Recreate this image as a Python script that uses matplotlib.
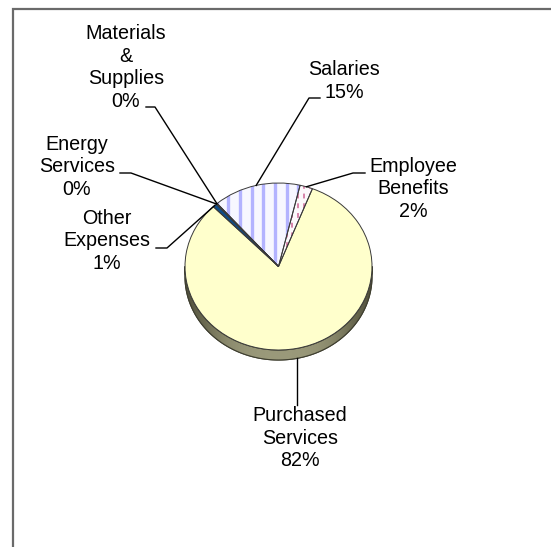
import numpy as np
import matplotlib
matplotlib.use('Agg')
import matplotlib.pyplot as plt
from matplotlib.patches import Polygon, Wedge
from matplotlib.colors import LinearSegmentedColormap

# ---- data ----
categories = ["Salaries", "Employee Benefits", "Purchased Services",
              "Other Expenses", "Energy Services", "Materials & Supplies"]
label_names = ["Salaries", "Employee\nBenefits", "Purchased\nServices",
               "Other\nExpenses", "Energy\nServices", "Materials\n&\nSupplies"]
values = [15.1, 2.2, 81.8, 0.7, 0.1, 0.1]
colors = ['#f7f7ff', '#fcf8fb', '#ffffcc', '#0b4d8c', '#3366cc', '#996699']

# ---- layout ----
label_pos = [(344, 81), (413, 189), (300, 438), (107, 241), (77, 167), (126, 67.5)]
leader_elbows = [((320, 98), (309, 98)), ((365, 173), (353, 173)), None,
                 ((156, 248), (167, 248)), ((120, 173), (131, 173)),
                 ((146, 107), (155, 107))]

plt.rcParams['font.family'] = ['Liberation Sans', 'DejaVu Sans']

W, H = 551, 547
fig = plt.figure(figsize=(W / 100, H / 100), dpi=100)
fig.patch.set_facecolor('white')

cx, cy, rx, ry, depth = 278.5, 266.5, 93.5, 83.5, 10
xm, ylo, yhi = 1.1, 1.4, 1.1
pax = fig.add_axes([(cx - xm * rx) / W, (H - cy - ylo * ry) / H,
                    2 * xm * rx / W, (ylo + yhi) * ry / H])
d = depth / ry

# side of the 3D pie
t = np.linspace(np.pi, 2 * np.pi, 200)
top = np.column_stack([np.cos(t), np.sin(t)])
bot = np.column_stack([np.cos(t[::-1]), np.sin(t[::-1]) - d])
side = Polygon(np.vstack([top, bot]), closed=True, facecolor='#8a896c',
               edgecolor='#3f3f30', lw=0.8, zorder=1)
pax.add_patch(side)
cmap = LinearSegmentedColormap.from_list('side', ['#9a997a', '#6a6950', '#4f4e3c'])
grad = np.abs(np.linspace(-1, 1, 256)) ** 3
im = pax.imshow(grad[None, :], extent=[-1, 1, -1 - d, 0], cmap=cmap,
                aspect='auto', zorder=1.5)
im.set_clip_path(side)
side_edge = Polygon(np.vstack([top, bot]), closed=True, fill=False,
                    edgecolor='#3f3f30', lw=0.8, zorder=1.6)
pax.add_patch(side_edge)

wedges, _ = pax.pie(values, colors=colors, startangle=131, counterclock=False,
                    radius=1, center=(0, 0),
                    wedgeprops=dict(edgecolor='none', linewidth=0))
for w in wedges:
    w.set_zorder(2)

# stripes for Salaries
sp = 0.125
for x in np.arange(-0.163 - 9 * sp, 1.0, sp):
    ln, = pax.plot([x, x], [-1.05, 1.05], color='#b3b3ff', lw=2.4,
                   solid_capstyle='butt', zorder=2.5)
    ln.set_clip_path(wedges[0])
# dashes for Employee Benefits
for x in np.arange(-0.163 - 9 * sp + sp / 2, 1.0, sp / 2):
    ln, = pax.plot([x, x], [-1.05, 1.05], color='#d783aa', lw=1.4,
                   linestyle=(0, (2.5, 2.5)), zorder=2.5)
    ln.set_clip_path(wedges[1])

for w in wedges:
    pax.add_patch(Wedge(w.center, w.r, w.theta1, w.theta2, fill=False,
                        edgecolor='#3a3a3a', lw=0.7, zorder=3))

pax.set_aspect('auto')
pax.set_xlim(-xm, xm)
pax.set_ylim(-ylo, yhi)
pax.axis('off')

# overlay in pixel coords
oax = fig.add_axes([0, 0, 1, 1])
oax.set_xlim(0, W)
oax.set_ylim(H, 0)
oax.axis('off')
oax.patch.set_alpha(0)

oax.plot([13, 13, W + 5], [H + 5, 9, 9], color='#6a6a6a', lw=1.6,
         solid_joinstyle='miter')


def to_px(xd, yd):
    disp = pax.transData.transform((xd, yd))
    return oax.transData.inverted().transform(disp)


total = sum(values)
for i, w in enumerate(wedges):
    mid = np.deg2rad((w.theta1 + w.theta2) / 2)
    xa, ya = np.cos(mid), np.sin(mid)
    if ya < 0:
        ya -= d
    ax_, ay_ = to_px(xa, ya)
    pct = round(values[i] / total * 100)
    lx, ly = label_pos[i]
    oax.text(lx, ly, f"{label_names[i]}\n{pct}%", ha='center', va='center',
             fontsize=14.2, linespacing=1.23, color='black')
    el = leader_elbows[i]
    if el is None:
        oax.plot([ax_, ax_], [ay_, 405], color='black', lw=1.0)
    else:
        (x1, y1), (x2, y2) = el
        oax.plot([x1, x2, ax_], [y1, y2, ay_], color='black', lw=1.0)

fig.savefig('out.png', dpi=100, facecolor='white')
